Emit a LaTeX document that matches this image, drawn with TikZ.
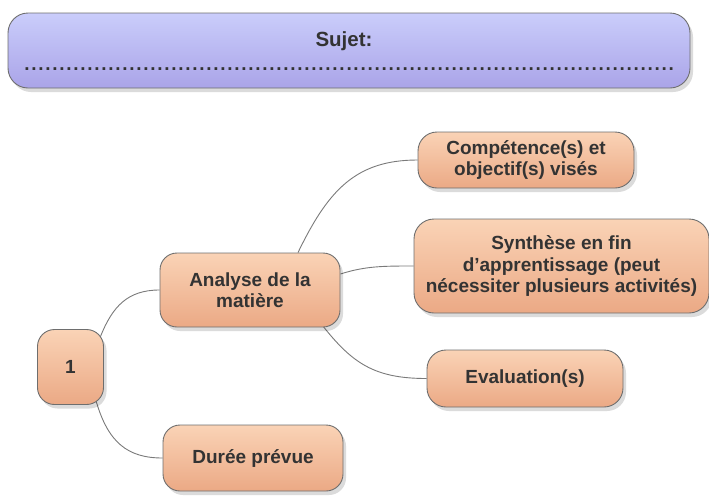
\documentclass[tikz,border=0pt]{standalone}
\usepackage{fontspec}
\setmainfont{Liberation Sans}
\usetikzlibrary{shadows,calc,backgrounds}
\definecolor{txt}{HTML}{333333}
\definecolor{bord}{HTML}{6E6E6E}
\definecolor{otop}{HTML}{FAD3B6}
\definecolor{obot}{HTML}{EBA985}
\definecolor{vtop}{HTML}{CACDFB}
\definecolor{vbot}{HTML}{AAA4E8}
\definecolor{linec}{HTML}{7A7A7A}
\tikzset{
  boxshadow/.style={drop shadow={shadow xshift=3pt,shadow yshift=-4pt,fill=black,opacity=0.14}},
  obox/.style={draw=bord,line width=0.9pt,rounded corners=17pt,top color=otop,bottom color=obot,
    boxshadow,align=center,text=txt,inner sep=0pt,
    font=\fontsize{19}{21.5}\selectfont\bfseries},
  conn/.style={draw=linec,line width=0.9pt},
}
\begin{document}
\begin{tikzpicture}[x=1pt,y=-1pt]
\useasboundingbox (0,0) rectangle (709,496);
% top box
\node[draw=bord,line width=0.9pt,rounded corners=20pt,top color=vtop,bottom color=vbot,boxshadow,
  minimum width=682pt,minimum height=75pt,inner sep=0pt] (top) at (349,50.5) {};
\node[text=txt,font=\fontsize{20.5}{23}\selectfont\bfseries,inner sep=0pt,anchor=base] (sujet) at (344,46) {Sujet:};
\node[text=txt,font=\fontsize{19}{21}\selectfont\bfseries,inner sep=0pt] (dots) at (349,69.5)
  {\hbox to 651pt{\xleaders\hbox to 7pt{\hss.\hss}\hfill}};
% nodes
\node[obox,minimum width=66pt,minimum height=75pt] (one) at (70.5,367) {1};
\node[obox,minimum width=180pt,minimum height=74pt] (ana) at (250,290) {Analyse de la\\matière};
\node[obox,minimum width=180pt,minimum height=66pt] (dur) at (253,458) {Durée prévue};
\node[obox,minimum width=216pt,minimum height=56pt,rounded corners=19pt] (comp) at (526,160) {Compétence(s) et\\objectif(s) visés};
\node[obox,minimum width=295pt,minimum height=94pt,rounded corners=20pt] (syn) at (561.5,266) {Synthèse en fin\\d'apprentissage (peut\\nécessiter plusieurs activités)};
\node[obox,minimum width=196pt,minimum height=57pt,rounded corners=19pt] (eval) at (525,378.5) {Evaluation(s)};
% connectors
\begin{scope}[on background layer]
\draw[conn] ($(one.north east)+(-3.5,7.5)$) .. controls +(12,-30) and +(-32,0) .. (ana.west);
\draw[conn] ($(one.south east)+(-8,-4.5)$) .. controls +(12,42) and +(-35,0) .. (dur.west);
\draw[conn] ($(ana.north)+(48,0)$) .. controls +(30,-62) and +(-62,0) .. (comp.west);
\draw[conn] ($(ana.east)+(0,-16)$) .. controls +(25,-8) and +(-30,0) .. (syn.west);
\draw[conn] ($(ana.south east)+(-18,-2)$) .. controls +(30,38) and +(-52,0) .. (eval.west);
\end{scope}
\end{tikzpicture}
\end{document}
